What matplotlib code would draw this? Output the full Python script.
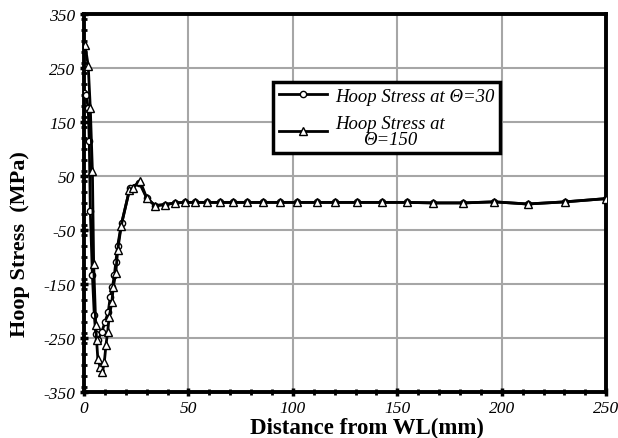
import matplotlib.pyplot as plt
from matplotlib.ticker import MultipleLocator

plt.rcParams["axes.unicode_minus"] = False

# Hoop stress at theta=30 (circles)
circ_x = [0, 1.0, 2.0, 2.5, 3.0, 4.0, 4.9, 5.6, 6.5, 8.5, 10.0, 11.6, 12.5, 13.6,
          14.5, 15.2, 16.1, 18.0, 22.0, 26.5, 30.0, 34.0, 38.8, 43.6, 48.4, 53.2,
          58.8, 65.1, 71.3, 77.9, 85.7, 93.9, 102.0, 111.5, 120.2, 130.6, 142.6,
          154.5, 167.2, 181.6, 196.4, 212.3, 230.4, 250.0]
circ_y = [203, 200, 175, 115, -15, -134, -208, -242, -254, -239, -221, -202, -175, -156,
          -134, -110, -79, -37, 28, 37, 9, -5, -3, 0, 1, 1,
          1, 1, 1, 1, 1, 1, 1, 1, 1, 1, 1,
          1, 0, 0, 2, -2, 2, 8]

# Hoop stress at theta=150 (triangles)
tri_x = [0.5, 2.0, 3.0, 4.0, 4.6, 5.6, 6.0, 6.6, 7.7, 8.8, 9.7, 10.5, 11.3, 12.0,
         13.3, 14.0, 15.2, 16.1, 17.8, 21.7, 23.6, 26.8, 30.0, 34.0, 38.8, 43.6,
         48.4, 53.2, 58.8, 65.1, 71.3, 77.9, 85.7, 93.9, 102.0, 111.5, 120.2, 130.6,
         142.6, 154.5, 167.2, 181.6, 196.4, 212.3, 230.4, 250.0]
tri_y = [292, 254, 175, 59, -113, -226, -254, -289, -304, -313, -295, -263, -239, -212,
         -184, -156, -129, -88, -42, 24, 28, 41, 9, -5, -3, 0,
         1, 1, 1, 1, 1, 1, 1, 1, 1, 1, 1, 1,
         1, 1, 0, 0, 2, -2, 2, 8]

serif = ["Liberation Serif", "DejaVu Serif"]

fig = plt.figure(figsize=(6.18, 4.39), dpi=100)
ax = fig.add_axes([0.136, 0.105, 0.845, 0.861])

ax.plot(circ_x, circ_y, color="black", lw=2, marker="o", ms=4.5,
        mfc="white", mec="black", mew=1, label="Hoop Stress at \u0398=30", zorder=3)
ax.plot(tri_x, tri_y, color="black", lw=2, marker="^", ms=6,
        mfc="white", mec="black", mew=1, label="Hoop Stress at\n\u0398=150", zorder=4)

ax.set_xlim(0, 250)
ax.set_ylim(-350, 350)
ax.xaxis.set_major_locator(MultipleLocator(50))
ax.xaxis.set_minor_locator(MultipleLocator(10))
ax.set_yticks([-350, -250, -150, -50, 50, 150, 250, 350])
ax.yaxis.set_minor_locator(MultipleLocator(20))
ax.grid(True, which="major", color="#a6a6a6", lw=1.5)
ax.set_axisbelow(True)

for s in ax.spines.values():
    s.set_linewidth(2.8)

ax.tick_params(which="major", direction="inout", length=6, width=2.5, pad=3)
ax.tick_params(which="minor", direction="inout", length=4, width=2)
for lab in ax.get_xticklabels() + ax.get_yticklabels():
    lab.set_family(serif)
    lab.set_style("italic")
    lab.set_fontsize(12.5)

fig.text(0.594, 0.023, "Distance from WL(mm)", ha="center", va="center",
         family=serif, fontweight="bold", fontsize=16.5)
fig.text(0.033, 0.445, "Hoop Stress  (MPa)", ha="center", va="center",
         rotation=90, family=serif, fontweight="bold", fontsize=16)

leg = ax.legend(loc="upper left", bbox_to_anchor=(0.362, 0.82), fancybox=False,
                framealpha=1, edgecolor="black", handlelength=2.6,
                handletextpad=0.4, prop={"family": serif, "style": "italic", "size": 13.5},
                borderpad=0.3, labelspacing=0.55, borderaxespad=0)
leg.get_frame().set_linewidth(2.5)
leg.get_texts()[1].set_multialignment("center")
for t in leg.get_texts():
    t.set_linespacing(0.9)

fig.savefig("out.png", dpi=100)
